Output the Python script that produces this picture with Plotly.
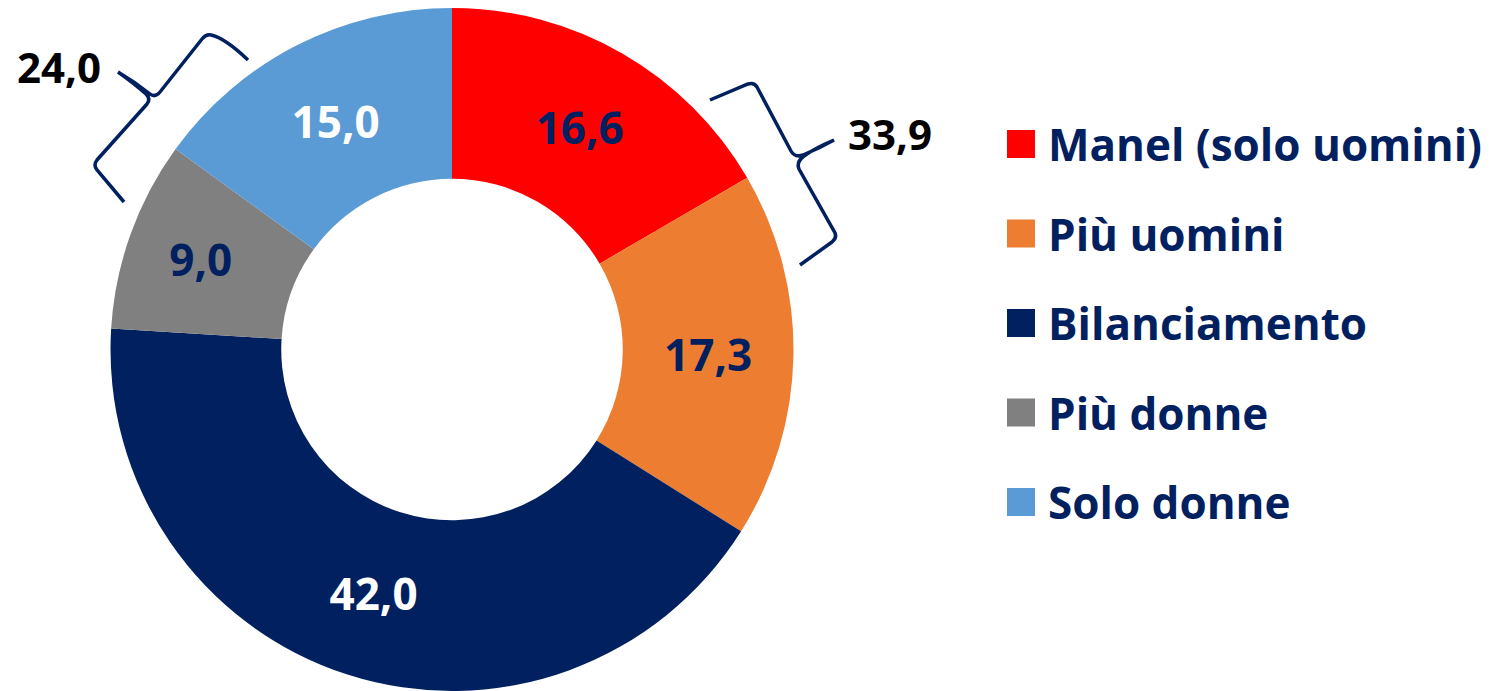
import plotly.graph_objects as go

# DATA
labels = ['Manel (solo uomini)', 'Più uomini', 'Bilanciamento', 'Più donne', 'Solo donne']
values = [16.6, 17.3, 42.0, 9.0, 15.0]
colors = ['#FF0000', '#ED7D31', '#002060', '#808080', '#5B9BD5']
label_colors = ['#002060', '#002060', '#FFFFFF', '#002060', '#FFFFFF']
group_totals = [33.9, 24.0]

NAVY = '#002060'
OFF = 8  # page body margin
W, H = 1491 - OFF, 691 - OFF
FONT = 'Open Sans'

# reference pixel -> paper coordinates
def px(x):
    return (x - OFF) / W

def py(y):
    return 1 - (y - OFF) / H

def path(points):
    out = []
    for cmd, pts in points:
        out.append(cmd + ' ' + ' '.join('%.5f,%.5f' % (px(a), py(b)) for a, b in pts))
    return ' '.join(out)

fig = go.Figure(go.Pie(
    labels=labels, values=values, sort=False, direction='clockwise', rotation=0,
    hole=0.5,
    marker=dict(colors=colors, line=dict(width=0)),
    texttemplate='%{value:.1f}', textposition='inside', insidetextorientation='horizontal',
    textfont=dict(family=FONT, size=44, color=label_colors, weight='bold'),
    domain=dict(x=[px(110.5), px(793.5)], y=[0, 1]),
    showlegend=False, hoverinfo='label+value',
))

shapes = []
annotations = []

# legend drawn by hand
for i, (lab, col) in enumerate(zip(labels, colors)):
    yc = 144 + i * 89.5
    shapes.append(dict(type='rect', xref='paper', yref='paper',
                       x0=px(1007), x1=px(1035), y0=py(yc - 14), y1=py(yc + 14),
                       fillcolor=col, line=dict(width=0)))
    annotations.append(dict(xref='paper', yref='paper', x=px(1046), y=py(yc),
                            xanchor='left', yanchor='middle', showarrow=False, text=lab,
                            font=dict(family=FONT, size=44, color=NAVY, weight='bold')))

# right brace (Manel + Più uomini)
brace_r = path([
    ('M', [(710, 100)]), ('L', [(748, 84)]), ('Q', [(754, 82), (757, 87)]),
    ('L', [(791, 151)]), ('Q', [(795, 158), (803, 155)]), ('Q', [(820, 148), (834, 140)]),
    ('Q', [(815, 148), (804, 156)]), ('Q', [(796, 162), (799, 169)]),
    ('L', [(834, 231)]), ('Q', [(838, 237), (832, 242)]), ('L', [(800, 265)]),
])
# left brace (Più donne + Solo donne)
brace_l = path([
    ('M', [(248, 60)]), ('Q', [(225, 38), (211, 35)]), ('Q', [(206, 34), (202, 39)]),
    ('L', [(160, 92)]), ('Q', [(155, 98), (150, 94)]), ('Q', [(135, 82), (118, 72)]),
    ('Q', [(135, 84), (146, 94)]), ('Q', [(151, 99), (147, 104)]),
    ('L', [(97, 160)]), ('Q', [(93, 165), (97, 170)]), ('L', [(124, 202)]),
])
for p in (brace_r, brace_l):
    shapes.append(dict(type='path', xref='paper', yref='paper', path=p,
                       line=dict(color=NAVY, width=3.5)))

for val, (x, y) in zip(group_totals, [(890, 133), (59, 66)]):
    annotations.append(dict(xref='paper', yref='paper', x=px(x), y=py(y),
                            xanchor='center', yanchor='middle', showarrow=False,
                            text=('%.1f' % val).replace('.', ','),
                            font=dict(family=FONT, size=42, color='black', weight='bold')))

fig.update_layout(
    width=W, height=H, margin=dict(l=0, r=0, t=0, b=0),
    paper_bgcolor='white', plot_bgcolor='white',
    separators=',.',
    shapes=shapes, annotations=annotations,
)

fig.write_html('out.html')
